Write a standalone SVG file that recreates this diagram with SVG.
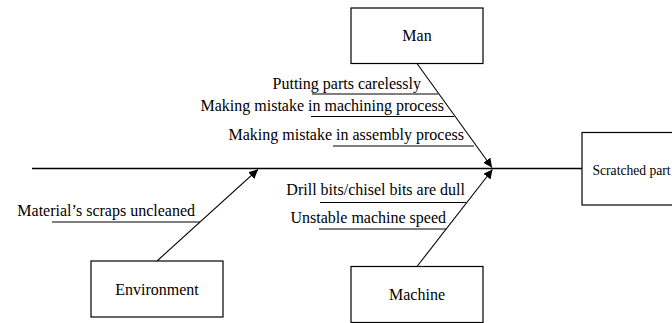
<svg xmlns="http://www.w3.org/2000/svg" width="672" height="323" viewBox="0 0 672 323">
  <defs>
    <marker id="arrow" viewBox="0 0 10 10" refX="10" refY="5" markerWidth="9" markerHeight="9" markerUnits="userSpaceOnUse" orient="auto">
      <path d="M0,0 L10,5 L0,10 Z" fill="#000"/>
    </marker>
    <style>
      .box { fill: #fff; stroke: #000; stroke-width: 1.2; }
      .lbl { font-family: "Liberation Serif", "Times New Roman", serif; font-size: 16px; fill: #000; }
      .cause { text-anchor: end; }
      .ctr { text-anchor: middle; }
      .spine { stroke: #000; stroke-width: 1.3; fill: none; }
      .bone { stroke: #000; stroke-width: 1.1; fill: none; marker-end: url(#arrow); }
      .rule { stroke: #000; stroke-width: 1.1; fill: none; }
    </style>
  </defs>
  <rect width="672" height="323" fill="#fff"/>

  <!-- connectors: spine, category bones and cause underlines -->
  <g id="connectors">
    <line class="spine" x1="32" y1="168.5" x2="582" y2="168.5"/>
    <line class="bone" x1="417" y1="63.5" x2="492" y2="167.5"/>
    <line class="bone" x1="417" y1="266.5" x2="492.5" y2="169.5"/>
    <line class="bone" x1="157" y1="261" x2="258" y2="169.5"/>
    <line class="rule" x1="312" y1="94" x2="438" y2="94"/>
    <line class="rule" x1="311" y1="116.5" x2="454" y2="116.5"/>
    <line class="rule" x1="333" y1="146" x2="474" y2="146"/>
    <line class="rule" x1="52" y1="222" x2="200" y2="222"/>
    <line class="rule" x1="320" y1="202.5" x2="466" y2="202.5"/>
    <line class="rule" x1="319" y1="229" x2="446" y2="229"/>
  </g>

  <g id="man">
    <rect class="box" x="351" y="8" width="132" height="55.5"/>
    <text class="lbl ctr" x="417" y="41">Man</text>
  </g>
  <g id="man-causes">
    <text class="lbl cause" x="421" y="89">Putting parts carelessly</text>
    <text class="lbl cause" x="444" y="110.5">Making mistake in machining process</text>
    <text class="lbl cause" x="464" y="139.5">Making mistake in assembly process</text>
  </g>

  <g id="environment">
    <rect class="box" x="91" y="261" width="132" height="56"/>
    <text class="lbl ctr" x="157" y="295">Environment</text>
  </g>
  <g id="environment-causes">
    <text class="lbl cause" x="195" y="216">Material’s scraps uncleaned</text>
  </g>

  <g id="machine">
    <rect class="box" x="351" y="266.5" width="132" height="56"/>
    <text class="lbl ctr" x="417" y="300">Machine</text>
  </g>
  <g id="machine-causes">
    <text class="lbl cause" x="465" y="195">Drill bits/chisel bits are dull</text>
    <text class="lbl cause" x="446" y="222.5">Unstable machine speed</text>
  </g>

  <g id="scratched-part">
    <rect class="box" x="582" y="132.5" width="100" height="72.5"/>
    <text class="lbl" x="592.5" y="175" style="font-size:13.6px">Scratched part</text>
  </g>
</svg>
